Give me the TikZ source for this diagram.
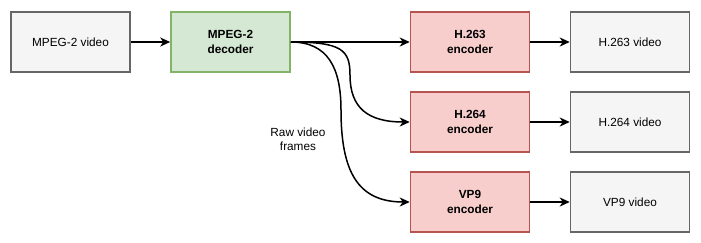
\documentclass[tikz,border=0pt]{standalone}
\usepackage{fontspec}
\setmainfont{Liberation Sans}
\usetikzlibrary{arrows.meta}
\definecolor{greyfill}{HTML}{F5F5F5}
\definecolor{greyline}{HTML}{666666}
\definecolor{greenfill}{HTML}{D5E8D4}
\definecolor{greenline}{HTML}{82B366}
\definecolor{redfill}{HTML}{F8CECC}
\definecolor{redline}{HTML}{B85450}
\begin{document}
\begin{tikzpicture}[x=1pt,y=-1pt,
  labelfont/.style={font=\fontsize{11.8}{14.5}\selectfont},
  box/.style={minimum width=119pt, minimum height=60pt, inner sep=0pt, line width=1.5pt,
    labelfont, align=center, text=black},
  media/.style={box, fill=greyfill, draw=greyline},
  decoderbox/.style={box, fill=greenfill, draw=greenline, font=\fontsize{11.8}{14.5}\selectfont\bfseries},
  encoderbox/.style={box, fill=redfill, draw=redline, font=\fontsize{11.8}{14.5}\selectfont\bfseries},
  flow/.style={line width=1.5pt, -{Stealth[length=10pt, width=9pt, inset=3pt]}}]
\useasboundingbox (0,0) rectangle (701,242);

\node[media] (src) at (70.5,42) {MPEG-2 video};
\node[decoderbox] (dec) at (230.5,42) {MPEG-2\\decoder};

\node[encoderbox] (e263) at (470,42) {H.263\\encoder};
\node[encoderbox] (e264) at (470,122) {H.264\\encoder};
\node[encoderbox] (evp9) at (470,202) {VP9\\encoder};

\node[media] (v263) at (630,42) {H.263 video};
\node[media] (v264) at (630,122) {H.264 video};
\node[media] (vvp9) at (630,202) {VP9 video};

\node[labelfont, align=center] (raw) at (298,139.5) {Raw video\\frames};

\draw[flow] (src) -- (dec);
\draw[flow] (dec) -- (e263);
\draw[flow] (dec.east) .. controls (342,42) and (350,50) .. (350,75)
  .. controls (350,108) and (368,122) .. (e264.west);
\draw[flow] (dec.east) .. controls (328,42) and (341,68) .. (341,110)
  .. controls (341,172) and (358,202) .. (evp9.west);
\draw[flow] (e263) -- (v263);
\draw[flow] (e264) -- (v264);
\draw[flow] (evp9) -- (vvp9);
\end{tikzpicture}
\end{document}
